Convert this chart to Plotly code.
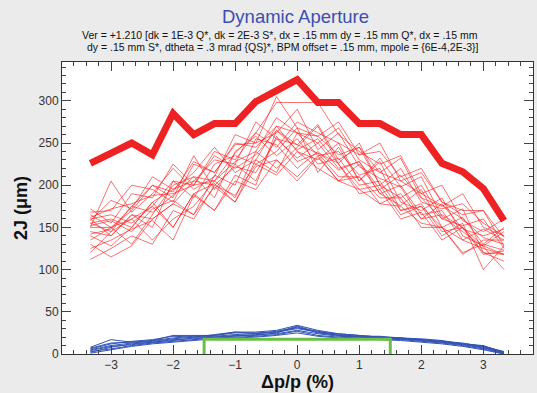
import plotly.graph_objects as go

dp = [-3.333, -3.0, -2.667, -2.333, -2.0, -1.667, -1.333, -1.0, -0.667, -0.333, 0.0,
      0.333, 0.667, 1.0, 1.333, 1.667, 2.0, 2.333, 2.667, 3.0, 3.333]

envelope = [226, 238, 250, 236, 285, 260, 273, 273, 299, 312, 325,
            298, 298, 273, 273, 260, 260, 226, 216, 196, 158]

seeds_red = [
    [155, 145, 175, 200, 192, 228, 215, 250, 245, 270, 262, 250, 268, 230, 215, 232, 185, 175, 190, 150, 140],
    [112, 125, 140, 130, 170, 160, 200, 188, 225, 212, 240, 220, 205, 195, 178, 190, 160, 165, 150, 120, 118],
    [172, 155, 190, 185, 225, 200, 240, 230, 262, 245, 275, 262, 250, 236, 250, 205, 215, 180, 165, 170, 128],
    [140, 128, 150, 180, 150, 190, 170, 205, 195, 230, 210, 235, 205, 225, 190, 200, 165, 170, 135, 148, 135],
    [160, 165, 155, 175, 205, 200, 235, 220, 236, 265, 248, 272, 230, 245, 200, 185, 200, 160, 172, 120, 110],
    [130, 115, 128, 160, 178, 165, 198, 180, 230, 215, 262, 235, 240, 212, 220, 170, 178, 145, 150, 128, 145],
    [165, 150, 170, 200, 185, 235, 195, 225, 205, 258, 228, 238, 210, 210, 185, 185, 150, 150, 120, 130, 123],
    [150, 205, 168, 190, 220, 195, 210, 260, 250, 305, 268, 258, 236, 245, 215, 205, 190, 200, 158, 145, 160],
    [120, 145, 160, 135, 160, 175, 205, 185, 240, 220, 245, 270, 225, 195, 200, 165, 175, 140, 155, 100, 128],
    [155, 160, 150, 180, 195, 215, 245, 215, 230, 270, 240, 230, 250, 205, 228, 180, 170, 185, 140, 128, 118],
    [145, 140, 165, 160, 178, 205, 200, 222, 215, 255, 232, 250, 220, 228, 195, 212, 185, 160, 152, 160, 125],
    [168, 170, 200, 195, 180, 225, 215, 248, 250, 262, 290, 242, 262, 222, 208, 198, 210, 163, 145, 127, 100],
    [150, 150, 130, 165, 200, 210, 185, 240, 258, 235, 255, 225, 232, 200, 205, 170, 175, 150, 162, 130, 150],
    [135, 150, 160, 175, 150, 190, 202, 180, 222, 230, 205, 233, 205, 210, 178, 175, 155, 150, 118, 135, 135],
    [158, 182, 172, 210, 195, 205, 230, 225, 275, 255, 248, 238, 226, 250, 200, 220, 180, 172, 178, 155, 140],
    [142, 148, 175, 168, 188, 210, 205, 228, 240, 280, 262, 258, 275, 236, 240, 210, 220, 180, 170, 170, 138],
    [162, 172, 178, 188, 190, 200, 205, 238, 262, 298, 298, 298, 260, 240, 225, 235, 190, 176, 160, 138, 130],
    [125, 135, 148, 158, 135, 188, 170, 212, 200, 265, 242, 255, 225, 190, 195, 160, 168, 135, 150, 118, 122],
    [152, 158, 145, 172, 182, 165, 212, 200, 255, 248, 220, 240, 218, 228, 190, 176, 195, 150, 135, 125, 118],
    [160, 140, 165, 150, 205, 185, 225, 235, 225, 240, 268, 215, 245, 205, 232, 198, 160, 178, 148, 140, 148],
]

seeds_blue = [
    [2, 8, 12, 14, 16, 19, 20, 22, 22, 25, 32, 25, 22, 20, 19, 18, 17, 15, 12, 8, 2],
    [5, 10, 13, 15, 18, 20, 21, 23, 24, 26, 30, 26, 22, 21, 20, 18, 16, 14, 11, 7, 1],
    [8, 17, 14, 16, 22, 22, 22, 26, 26, 28, 34, 28, 24, 22, 20, 19, 17, 15, 13, 9, 3],
    [3, 6, 10, 13, 15, 17, 19, 20, 21, 23, 27, 22, 20, 19, 18, 17, 15, 13, 10, 6, 0],
    [6, 12, 15, 17, 21, 20, 23, 26, 24, 27, 31, 27, 23, 21, 21, 19, 18, 16, 12, 9, 2],
    [4, 9, 11, 14, 17, 18, 20, 21, 23, 24, 28, 24, 21, 20, 19, 18, 16, 14, 11, 8, 1],
    [7, 13, 14, 16, 19, 21, 22, 25, 25, 26, 33, 26, 24, 22, 20, 19, 17, 15, 12, 10, 2],
    [1, 5, 9, 12, 14, 16, 18, 19, 20, 22, 25, 21, 19, 18, 17, 16, 14, 12, 9, 5, 0],
]

req_x = [-1.5, -1.5, 1.5, 1.5]
req_y = [0, 17.5, 17.5, 0]

title_text = "Dynamic Aperture"
sub1 = "Ver = +1.210 [dk = 1E-3 Q*, dk = 2E-3 S*, dx = .15 mm dy = .15 mm Q*, dx = .15 mm"
sub2 = "dy = .15 mm S*, dtheta = .3 mrad {QS}*, BPM offset = .15 mm, mpole = {6E-4,2E-3}]"

FONT = "Liberation Sans, Arial, sans-serif"
W, H = 537, 393
L, R, T, B = 62, 4, 62, 39

fig = go.Figure()
for s in seeds_red:
    fig.add_trace(go.Scatter(x=dp, y=s, mode="lines",
                             line=dict(color="rgba(245,30,30,0.7)", width=0.9),
                             showlegend=False, hoverinfo="skip"))
for s in seeds_blue:
    fig.add_trace(go.Scatter(x=dp, y=s, mode="lines",
                             line=dict(color="#3354b4", width=1),
                             showlegend=False, hoverinfo="skip"))
fig.add_trace(go.Scatter(x=dp, y=envelope, mode="lines",
                         line=dict(color="#ee2222", width=7),
                         showlegend=False, hoverinfo="skip"))
fig.add_trace(go.Scatter(x=req_x, y=req_y, mode="lines",
                         line=dict(color="#6abf45", width=3),
                         showlegend=False, hoverinfo="skip"))

axis_common = dict(showgrid=False, zeroline=False, showline=True, linecolor="#333",
                   linewidth=1, mirror="allticks", ticks="inside", tickcolor="#444",
                   tickfont=dict(family=FONT, size=12, color="#333"))

fig.update_xaxes(range=[-3.79, 3.80], dtick=1, tick0=0, ticklen=9,
                 minor=dict(dtick=0.2, ticks="inside", ticklen=4, tickcolor="#444"),
                 title=dict(text="<b>Δp/p (%)</b>", font=dict(family=FONT, size=18, color="#111"),
                            standoff=2),
                 **axis_common)
fig.update_yaxes(range=[0, 346], dtick=50, tick0=0, ticklen=9,
                 minor=dict(dtick=10, ticks="inside", ticklen=4, tickcolor="#444"),
                 title=dict(text="<b>2J (μm)</b>", font=dict(family=FONT, size=18, color="#111"),
                            standoff=6),
                 **axis_common)

pw = W - L - R
ph = H - T - B


def px2paper(px, py):
    return (px - L) / pw, 1 + (T - py) / ph


ann = []
for txt, px, py, size, color in [
    (title_text, 295, 17, 18.5, "#3a4fb0"),
    (sub1, 280, 35, 10.5, "#111"),
    (sub2, 283, 47, 10.5, "#111"),
]:
    ax, ay = px2paper(px, py)
    ann.append(dict(text=txt, x=ax, y=ay, xref="paper", yref="paper", showarrow=False,
                    xanchor="center", yanchor="middle",
                    font=dict(family=FONT, size=size, color=color)))

fig.update_layout(
    width=W, height=H,
    margin=dict(l=L, r=R, t=T, b=B),
    paper_bgcolor="#ebebeb", plot_bgcolor="white",
    annotations=ann,
)

fig.write_html("out.html", config={"displayModeBar": False},
               post_script="document.body.style.margin='0';document.body.style.background='#ebebeb';document.body.style.overflow='hidden';")
